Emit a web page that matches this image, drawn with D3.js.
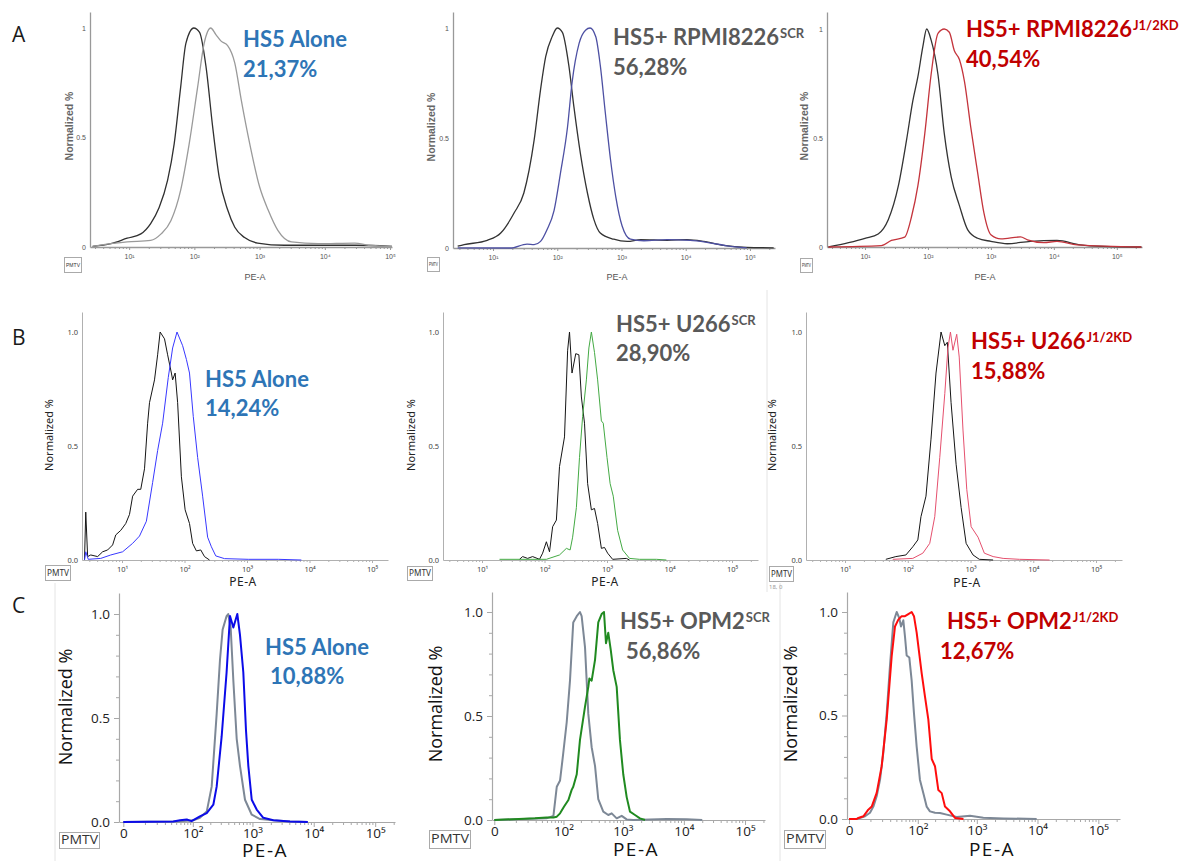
<!DOCTYPE html>
<html><head><meta charset="utf-8">
<script src="https://cdn.jsdelivr.net/npm/d3@7"></script>
<style>body{margin:0;background:#fff}svg{display:block}</style>
</head><body>
<script>
// ================= DATA =================
const rowLetters = ["A","B","C"];
const titleMain = ["HS5 Alone","HS5+ RPMI8226","HS5+ RPMI8226","HS5 Alone","HS5+ U266","HS5+ U266","HS5 Alone","HS5+ OPM2","HS5+ OPM2"];
const titleSup  = ["","SCR","J1/2KD","","SCR","J1/2KD","","SCR","J1/2KD"];
const percents  = ["21,37%","56,28%","40,54%","14,24%","28,90%","15,88%","10,88%","56,86%","12,67%"];
const logTickExps = [1,2,3,4,5];
const yTickValues = [0,0.5,1];
const yTickLabelsA = ["0","0.5","1"];
const yTickLabelsBC = ["0.0","0.5","1.0"];
const cTickValues = [0,100,1000,10000,100000];
const cTickLabels = ["0","10\u00B2","10\u00B3","10\u2074","10\u2075"];
const supDigits = {1:"\u00B9",2:"\u00B2",3:"\u00B3",4:"\u2074",5:"\u2075"};

// Rows A and B: [log10(PE-A), normalized %]
const a1Control = [[0.44,0.003],[0.72,0.015],[0.97,0.04],[1.18,0.06],[1.33,0.107],[1.46,0.18],[1.59,0.305],[1.69,0.47],[1.79,0.73],[1.87,0.93],[1.99,1.0],[2.08,0.98],[2.18,0.82],[2.28,0.55],[2.38,0.32],[2.51,0.17],[2.62,0.09],[2.77,0.043],[2.97,0.018],[3.38,0.008],[4.15,0.008],[4.46,0.008],[5.03,0.003]];
const a1Sample  = [[0.44,0.003],[0.97,0.023],[1.33,0.03],[1.49,0.06],[1.64,0.12],[1.79,0.26],[1.92,0.47],[2.05,0.73],[2.15,0.93],[2.25,1.0],[2.33,0.97],[2.41,0.94],[2.51,0.92],[2.62,0.84],[2.72,0.67],[2.85,0.47],[3.0,0.275],[3.13,0.17],[3.28,0.076],[3.49,0.023],[3.9,0.015],[4.46,0.018],[4.67,0.008],[5.03,0.003]];
const a2Control = [[0.45,0.008],[0.55,0.015],[0.91,0.035],[1.12,0.068],[1.33,0.16],[1.48,0.25],[1.64,0.49],[1.74,0.72],[1.82,0.87],[1.92,0.96],[2.0,1.0],[2.08,0.98],[2.18,0.83],[2.26,0.64],[2.36,0.43],[2.47,0.25],[2.57,0.13],[2.67,0.068],[2.88,0.04],[3.09,0.03],[3.3,0.038],[3.71,0.035],[4.02,0.038],[4.28,0.03],[4.59,0.012],[4.95,0.003],[5.37,0.001]];
const a2Sample  = [[0.45,0.001],[1.27,0.0],[1.53,0.018],[1.64,0.015],[1.74,0.03],[1.84,0.083],[1.95,0.17],[2.05,0.34],[2.16,0.55],[2.23,0.75],[2.34,0.93],[2.44,0.99],[2.51,1.0],[2.6,0.96],[2.67,0.83],[2.75,0.61],[2.83,0.4],[2.91,0.235],[3.01,0.1],[3.14,0.04],[3.35,0.033],[3.71,0.038],[4.07,0.035],[4.33,0.026],[4.64,0.01],[4.95,0.001]];
const a3Control = [[0.42,0],[0.74,0.02],[1.0,0.04],[1.21,0.06],[1.37,0.125],[1.53,0.28],[1.66,0.49],[1.76,0.67],[1.84,0.78],[1.92,0.92],[1.98,1.0],[2.05,0.95],[2.16,0.79],[2.26,0.52],[2.37,0.32],[2.5,0.19],[2.63,0.08],[2.79,0.04],[3.0,0.026],[3.26,0.015],[3.63,0.026],[4.05,0.03],[4.42,0.01],[4.79,0.003],[5.39,0]];
const a3Sample  = [[0.42,0],[1.26,0.006],[1.42,0.03],[1.63,0.045],[1.74,0.14],[1.84,0.28],[1.95,0.52],[2.05,0.79],[2.16,0.98],[2.26,1.0],[2.34,0.985],[2.42,0.9],[2.5,0.86],[2.58,0.76],[2.68,0.55],[2.79,0.34],[2.89,0.155],[3.0,0.056],[3.16,0.037],[3.47,0.046],[3.58,0.033],[3.84,0.02],[4.05,0.026],[4.37,0.01],[5.39,0]];
const b1Control = [[0.40,0],[0.42,0.21],[0.45,0.015],[0.50,0.022],[0.61,0.015],[0.69,0.036],[0.77,0.044],[0.85,0.066],[0.90,0.11],[0.98,0.13],[1.06,0.16],[1.12,0.2],[1.17,0.28],[1.25,0.31],[1.30,0.31],[1.36,0.4],[1.41,0.6],[1.44,0.69],[1.52,0.79],[1.57,0.9],[1.61,1.0],[1.68,0.97],[1.73,0.9],[1.79,0.82],[1.81,0.79],[1.85,0.82],[1.89,0.69],[1.95,0.365],[2.01,0.22],[2.08,0.16],[2.13,0.073],[2.19,0.04],[2.26,0.044],[2.32,0.015],[2.40,0]];
const b1Sample  = [[0.40,0],[0.42,0.036],[0.46,0.003],[0.66,0.007],[0.82,0.022],[1.01,0.036],[1.17,0.073],[1.28,0.105],[1.39,0.17],[1.49,0.34],[1.57,0.48],[1.65,0.6],[1.74,0.8],[1.81,0.93],[1.88,1.0],[1.97,0.94],[2.03,0.88],[2.08,0.82],[2.14,0.63],[2.21,0.45],[2.29,0.28],[2.37,0.1],[2.43,0.058],[2.50,0.018],[2.64,0.006],[3.02,0.003],[3.50,0.003],[3.87,0]];
const b2Control = [[1.60,0.003],[1.65,0.015],[1.73,0.007],[1.81,0.015],[1.92,0.003],[1.97,0.03],[2.03,0.08],[2.08,0.036],[2.13,0.146],[2.19,0.175],[2.24,0.41],[2.32,0.54],[2.37,0.92],[2.40,1.0],[2.44,0.82],[2.50,0.905],[2.55,0.9],[2.59,0.715],[2.64,0.6],[2.69,0.335],[2.75,0.22],[2.80,0.226],[2.85,0.16],[2.91,0.051],[2.96,0.055],[3.01,0.03],[3.09,0.003],[3.31,0.007],[3.36,0]];
const b2Sample  = [[1.28,0.003],[2.03,0.003],[2.24,0.022],[2.35,0.051],[2.41,0.044],[2.45,0.1],[2.51,0.23],[2.56,0.45],[2.61,0.63],[2.67,0.79],[2.71,0.93],[2.75,1.0],[2.80,0.91],[2.85,0.79],[2.91,0.61],[2.94,0.6],[3.00,0.45],[3.05,0.335],[3.10,0.28],[3.17,0.13],[3.25,0.044],[3.36,0.007],[3.52,0.003],[3.79,0.003],[3.95,0]];
const b3Control = [[1.65,0.003],[1.81,0.015],[1.97,0.022],[2.08,0.058],[2.16,0.088],[2.21,0.19],[2.29,0.28],[2.37,0.53],[2.45,0.82],[2.53,1.0],[2.59,0.94],[2.63,0.955],[2.69,0.69],[2.77,0.42],[2.85,0.23],[2.93,0.073],[3.04,0.022],[3.14,0.003],[3.36,0]];
const b3Sample  = [[1.76,0.003],[2.08,0.007],[2.24,0.03],[2.35,0.073],[2.43,0.19],[2.51,0.45],[2.59,0.73],[2.64,0.93],[2.68,1.0],[2.72,0.92],[2.78,0.99],[2.82,0.89],[2.88,0.57],[2.94,0.31],[3.01,0.146],[3.12,0.1],[3.22,0.03],[3.36,0.015],[3.52,0.007],[3.78,0.003],[4.26,0]];
// Row C (biexponential display): [PE-A, normalized %]
const c1Control = [[0,0],[44,0.002],[59,0.003],[102,0.008],[133,0.02],[174,0.05],[211,0.17],[256,0.52],[291,0.78],[322,0.925],[375,0.99],[399,1.0],[438,0.935],[485,0.68],[551,0.4],[624,0.27],[755,0.107],[974,0.035],[1330,0.014],[2200,0.008],[4100,0.003],[8000,0]];
const c1Sample  = [[0,0],[44,0.002],[59,0.008],[78,0.012],[95,0.004],[133,0.027],[174,0.043],[225,0.083],[256,0.17],[310,0.41],[375,0.72],[427,0.99],[485,0.935],[564,1.0],[624,0.9],[708,0.72],[784,0.44],[856,0.27],[974,0.107],[1174,0.06],[1506,0.02],[2200,0.008],[4100,0.002],[8000,0]];
const c2Control = [[0,0],[49,0.008],[66,0.02],[76,0.16],[87,0.19],[99,0.32],[114,0.47],[130,0.67],[148,0.95],[170,0.98],[193,1.0],[206,0.98],[235,0.83],[267,0.51],[304,0.35],[346,0.26],[392,0.1],[475,0.04],[575,0.024],[655,0.032],[792,0.008],[957,0.02],[1157,0.003],[1486,0],[5240,0.005],[11140,0.004],[20000,0]];
const c2Sample  = [[0,0],[29,0.008],[49,0.012],[66,0.012],[76,0.016],[87,0.032],[102,0.064],[122,0.096],[139,0.145],[148,0.16],[170,0.22],[193,0.385],[235,0.545],[267,0.64],[278,0.68],[304,0.67],[346,0.77],[392,0.95],[446,0.99],[488,1.0],[527,0.85],[575,0.9],[630,0.82],[696,0.72],[792,0.64],[896,0.385],[1016,0.22],[1157,0.11],[1312,0.04],[1585,0.024],[1912,0.008],[2312,0]];
const c3Control = [[0,0],[2.7,0],[6.7,0.013],[9.7,0.03],[12.1,0.06],[14.8,0.11],[17.9,0.19],[21.3,0.32],[25.3,0.51],[29.7,0.74],[34.8,0.95],[40.6,1.0],[45.7,0.97],[49.2,0.93],[54.5,0.96],[58.6,0.88],[62.9,0.79],[70.4,0.78],[77.6,0.67],[85.5,0.51],[95.5,0.35],[109,0.19],[125,0.126],[143,0.06],[163,0.037],[199,0.03],[242,0.029],[314,0.021],[463,0.01],[771,0.016],[1280,0.006],[2750,0.003],[9690,0]];
const c3Sample  = [[0,0],[2.7,0],[3.4,0.005],[5.8,0.013],[8.6,0.045],[10.9,0.06],[14.8,0.126],[19.5,0.254],[25.3,0.48],[32.2,0.786],[37.6,0.93],[43.7,0.963],[50.7,0.98],[58.6,0.98],[67.5,0.99],[77.6,1.0],[85.5,0.98],[95.5,0.9],[117,0.705],[134,0.59],[153,0.48],[175,0.29],[199,0.255],[227,0.14],[259,0.125],[294,0.06],[357,0.037],[434,0.005],[600,0]];

const controls = [a1Control,a2Control,a3Control,b1Control,b2Control,b3Control,c1Control,c2Control,c3Control];
const samples  = [a1Sample,a2Sample,a3Sample,b1Sample,b2Sample,b3Sample,c1Sample,c2Sample,c3Sample];

// ================= LAYOUT / STYLE =================
const layout = [
 {row:0,x0:90, x1:392, lo:0.4,  hi:5.03, y0:247,y1:28, yTop:12, ylx:70, lyy:126,xlx:255,xly:280,box:[64,257,17,15], tx:243,ty1:47, tx2:243,ty2:77},
 {row:0,x0:453,x1:775, lo:0.377,hi:5.39, y0:248,y1:28, yTop:12, ylx:432,lyy:127,xlx:617,xly:280,box:[427,257,12,14],tx:613,ty1:45, tx2:613,ty2:75},
 {row:0,x0:827,x1:1142,lo:0.397,hi:5.4,  y0:247,y1:29, yTop:12, ylx:805,lyy:126,xlx:985,xly:280,box:[800,258,12,14],tx:966,ty1:37, tx2:966,ty2:67},
 {row:1,x0:82, x1:388, lo:0.36, hi:5.256,y0:560,y1:332,yTop:312,ylx:50, lyy:435,xlx:243,xly:586,box:[45,565,25,15], tx:205,ty1:387,tx2:205,ty2:416},
 {row:1,x0:443,x1:758, lo:0.376,hi:5.416,y0:560,y1:332,yTop:312,ylx:412,lyy:435,xlx:605,xly:586,box:[407,566,25,14],tx:616,ty1:332,tx2:616,ty2:361},
 {row:1,x0:806,x1:1122,lo:0.378,hi:5.414,y0:560,y1:332,yTop:312,ylx:773,lyy:435,xlx:967,xly:587,box:[769,566,24,15],tx:971,ty1:349,tx2:971,ty2:379},
 {row:2,x0:119,x1:395, vLo:-1.4, vHi:210000,y0:822,y1:614,yTop:593,ylx:67, lyy:707,xlx:265,xly:857,box:[59,832,40,16], tx:265,ty1:655,tx2:270,ty2:684},
 {row:2,x0:492,x1:765, vLo:-0.72,vHi:212000,y0:820,y1:612,yTop:592,ylx:437,lyy:704,xlx:636,xly:856,box:[429,830,41,18],tx:620,ty1:629,tx2:626,ty2:659},
 {row:2,x0:847,x1:1120,vLo:-0.63,vHi:227000,y0:819,y1:612,yTop:592,ylx:792,lyy:704,xlx:992,xly:856,box:[784,830,41,18],tx:947,ty1:629,tx2:940,ty2:659}
];
const letterPos = [[12,42],[12,345],[12,613]];
const titleColors = ["#2e75b6","#595959","#c00000"];
const controlColors = ["#303030","#333333","#333333","#151515","#151515","#151515","#7d8896","#7d8896","#7d8896"];
const sampleColors  = ["#9a9a9a","#4d50a3","#c4343c","#3838ff","#44aa44","#e5506e","#0b0be8","#208a20","#ff0d0d"];
const rowStyle = [
 {font:"'Liberation Sans', Arial, sans-serif", tickFs:7, tickFill:"#555", labFs:10.5, labW:"bold", labFill:"#666", xlabFs:9, xlabFill:"#555", axis:"#999", axisW:1.3, lw:1.3, boxFs:5, ls:0, curve:d3.curveMonotoneX, tickLen:3, minorLen:2, pad:4},
 {font:"'Noto Sans', sans-serif", tickFs:7.5, tickFill:"#444", labFs:11, labW:"normal", labFill:"#222", xlabFs:12, xlabFill:"#222", axis:"#b0b0b0", axisW:1, lw:1, boxFs:8, ls:0.5, curve:d3.curveLinear, tickLen:3, minorLen:2, pad:4},
 {font:"'Open Sans', sans-serif", tickFs:13.5, tickFill:"#222", labFs:18, labW:"normal", labFill:"#111", xlabFs:19, xlabFill:"#111", axis:"#a8a8a8", axisW:1.2, lw:2, boxFs:12, ls:1.5, curve:d3.curveLinear, tickLen:5, minorLen:3, pad:1}
];

// ================= DRAW =================
const svg = d3.select("body").append("svg").attr("width",1186).attr("height",861)
  .style("background","#fff");

// faint panel borders of the source images
[[767,290,767,592],[55,583,55,861],[780,583,780,861]].forEach(l=>{
  svg.append("line").attr("x1",l[0]).attr("y1",l[1]).attr("x2",l[2]).attr("y2",l[3])
    .attr("stroke","#e4e4e4").attr("stroke-width",1);
});

rowLetters.forEach((L,i)=>{
  svg.append("text").attr("x",letterPos[i][0]).attr("y",letterPos[i][1]).text(L)
    .attr("font-family","'Open Sans', sans-serif").attr("font-size",21).attr("fill","#1a1a1a");
});

layout.forEach((p,i)=>{
  const st = rowStyle[p.row];
  const col = i % 3;
  const g = svg.append("g");
  let x, majors, minors, fmt;
  if (p.row < 2) {
    x = d3.scaleLog().domain([10**p.lo, 10**p.hi]).range([p.x0,p.x1]);
    majors = logTickExps.map(e=>10**e);
    fmt = d => "10" + supDigits[Math.round(Math.log10(d))];
    minors = [];
    for (let e=0;e<=5;e++) for (let k=2;k<=9;k++){const v=k*10**e; if(v>10**p.lo && v<10**p.hi) minors.push(v);}
  } else {
    x = d3.scaleSymlog().constant(8).domain([p.vLo,p.vHi]).range([p.x0,p.x1]);
    majors = cTickValues;
    fmt = d => cTickLabels[cTickValues.indexOf(d)];
    minors = [];
    for (let e=1;e<=5;e++) for (let k=(e===1?1:2);k<=9;k++){const v=k*10**e; if(v<p.vHi && v!==100) minors.push(v);}
  }
  const y = d3.scaleLinear().domain([0,1]).range([p.y0,p.y1]);

  // minor x ticks
  const gMin = g.append("g").attr("transform",`translate(0,${p.y0})`)
    .call(d3.axisBottom(x).tickValues(minors).tickSize(st.minorLen).tickSizeOuter(0).tickFormat(""));
  gMin.select(".domain").remove();
  gMin.selectAll("line").attr("stroke",st.axis);
  // major x ticks + labels
  const gx = g.append("g").attr("transform",`translate(0,${p.y0})`)
    .call(d3.axisBottom(x).tickValues(majors).tickSize(st.tickLen).tickSizeOuter(0).tickFormat(fmt).tickPadding(st.pad));
  gx.select(".domain").attr("stroke",st.axis).attr("stroke-width",st.axisW);
  gx.selectAll("line").attr("stroke",st.axis);
  gx.selectAll("text").attr("font-family",st.font).attr("font-size",st.tickFs).attr("fill",st.tickFill);

  // y axis
  const yAx = y.copy().domain([0, y.invert(p.yTop)]).range([p.y0,p.yTop]);
  const gy = g.append("g").attr("transform",`translate(${p.x0},0)`)
    .call(d3.axisLeft(yAx).tickValues(yTickValues).tickSize(p.row===2?st.tickLen:0).tickSizeOuter(0)
      .tickPadding(4)
      .tickFormat((d,k)=> p.row===0 ? yTickLabelsA[k] : yTickLabelsBC[k]));
  gy.select(".domain").attr("stroke",st.axis).attr("stroke-width",st.axisW);
  gy.selectAll("line").attr("stroke",st.axis);
  gy.selectAll("text").attr("font-family",st.font).attr("font-size",st.tickFs).attr("fill",st.tickFill);
  if (p.row===2) {
    const gyMin = g.append("g").attr("transform",`translate(${p.x0},0)`)
      .call(d3.axisLeft(yAx).tickValues([0.1,0.2,0.3,0.4,0.6,0.7,0.8,0.9]).tickSize(st.minorLen).tickFormat(""));
    gyMin.select(".domain").remove();
    gyMin.selectAll("line").attr("stroke",st.axis);
  }

  // axis titles
  g.append("text").attr("transform",`translate(${p.ylx},${p.lyy}) rotate(-90)`)
    .attr("text-anchor","middle").attr("dominant-baseline","middle")
    .attr("font-family",st.font).attr("font-size",st.labFs).attr("font-weight",st.labW)
    .attr("fill",st.labFill).text("Normalized %");
  g.append("text").attr("x",p.xlx).attr("y",p.xly).attr("text-anchor","middle")
    .attr("font-family",st.font).attr("font-size",st.xlabFs).attr("fill",st.xlabFill)
    .attr("letter-spacing",st.ls).text("PE-A");

  // PMTV box
  const b = p.box;
  g.append("rect").attr("x",b[0]+0.5).attr("y",b[1]+0.5).attr("width",b[2]).attr("height",b[3])
    .attr("fill","#fff").attr("stroke","#aaa").attr("stroke-width",1);
  g.append("text").attr("x",b[0]+b[2]/2+0.5).attr("y",b[1]+b[3]/2+1).attr("text-anchor","middle")
    .attr("dominant-baseline","middle").attr("font-family",st.font).attr("font-size",st.boxFs)
    .attr("fill","#333").attr("textLength",b[2]-3).attr("lengthAdjust","spacingAndGlyphs").text("PMTV");
  if (i===5) {
    g.append("text").attr("x",b[0]).attr("y",b[1]+b[3]+8).attr("font-family",st.font)
      .attr("font-size",6).attr("fill","#999").text("18, 0");
  }

  // curves
  const xv = d => p.row<2 ? x(10**d[0]) : x(d[0]);
  const line = d3.line().x(xv).y(d=>y(d[1])).curve(st.curve);
  g.append("path").datum(controls[i]).attr("d",line).attr("fill","none")
    .attr("stroke",controlColors[i]).attr("stroke-width",st.lw).attr("stroke-linejoin","round");
  g.append("path").datum(samples[i]).attr("d",line).attr("fill","none")
    .attr("stroke",sampleColors[i]).attr("stroke-width",st.lw).attr("stroke-linejoin","round");

  // titles
  const t1 = g.append("text").attr("x",p.tx).attr("y",p.ty1)
    .attr("font-family","Lato, 'Open Sans', sans-serif").attr("font-weight","bold")
    .attr("font-size",22).attr("fill",titleColors[col]);
  t1.append("tspan").text(titleMain[i]);
  if (titleSup[i]) t1.append("tspan").attr("dy",-7).attr("dx",1).attr("font-size",13).text(titleSup[i]);
  g.append("text").attr("x",p.tx2).attr("y",p.ty2)
    .attr("font-family","Lato, 'Open Sans', sans-serif").attr("font-weight","bold")
    .attr("font-size",22).attr("fill",titleColors[col]).text(percents[i]);
});
</script>
</body></html>
